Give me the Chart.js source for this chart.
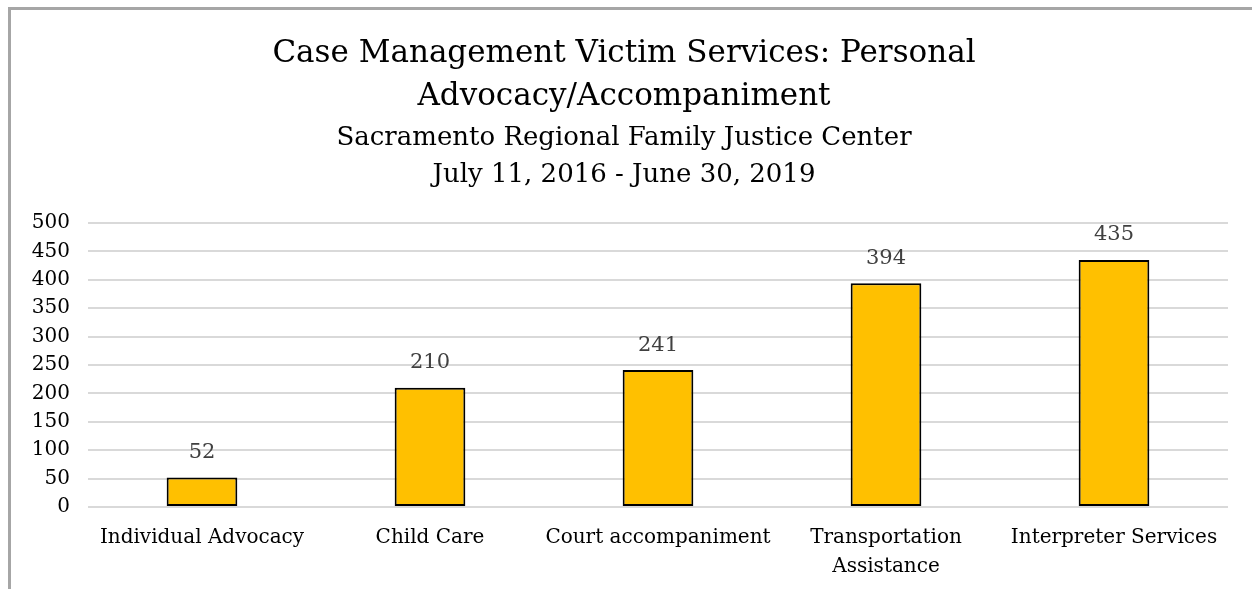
<!DOCTYPE html>
<html>
<head>
<meta charset="utf-8">
<script src="https://cdn.jsdelivr.net/npm/chart.js@4.4.1/dist/chart.umd.min.js"></script>
<style>
html,body{margin:0;padding:0;background:#fff;overflow:hidden;}
#wrap{position:relative;width:1252px;height:589px;}
#frame{position:absolute;left:8px;top:7px;width:1300px;height:700px;border-left:3px solid #a6a6a6;border-top:3px solid #a6a6a6;pointer-events:none;}
canvas{position:absolute;left:0;top:0;}
</style>
</head>
<body>
<div id="wrap"><canvas id="c" width="1252" height="589"></canvas><div id="frame"></div></div>
<script>
const categories = ["Individual Advocacy", ["Child Care"], "Court accompaniment", ["Transportation", "Assistance"], "Interpreter Services"];
const values = [52, 210, 241, 394, 435];
const titleLines = ["Case Management Victim Services: Personal", "Advocacy/Accompaniment"];
const subtitleLines = ["Sacramento Regional Family Justice Center", "July 11, 2016 - June 30, 2019"];
const yMin = 0, yMax = 500, yStep = 50;

const FONT = "'DejaVu Serif', 'Liberation Serif', serif";

const valueLabels = {
  id: 'valueLabels',
  afterDatasetsDraw(chart) {
    const ctx = chart.ctx;
    const meta = chart.getDatasetMeta(0);
    ctx.save();
    ctx.font = "21px " + FONT;
    ctx.fillStyle = '#404040';
    ctx.textAlign = 'center';
    ctx.textBaseline = 'middle';
    meta.data.forEach((bar, i) => {
      ctx.fillText(String(values[i]), bar.x, bar.y - 25);
    });
    ctx.restore();
  }
};

new Chart(document.getElementById('c'), {
  type: 'bar',
  data: {
    labels: categories,
    datasets: [{
      data: values,
      backgroundColor: '#FFC000',
      borderColor: '#000000',
      borderWidth: 2,
      borderSkipped: false,
      barPercentage: 0.31,
      categoryPercentage: 1.0
    }]
  },
  options: {
    responsive: false,
    animation: false,
    devicePixelRatio: 1,
    layout: { padding: { left: 20, right: 24, top: 8, bottom: 10 } },
    plugins: {
      legend: { display: false },
      tooltip: { enabled: false },
      title: {
        display: true,
        text: titleLines,
        color: '#000',
        font: { family: FONT, size: 31, weight: 'normal', lineHeight: 1.39 },
        padding: { top: 24, bottom: 0 }
      },
      subtitle: {
        display: true,
        text: subtitleLines,
        color: '#000',
        font: { family: FONT, size: 26, weight: 'normal', lineHeight: 1.42 },
        padding: { top: 2, bottom: 29 }
      }
    },
    scales: {
      x: {
        afterFit(scale) { scale.height = 72; },
        grid: { display: false, drawTicks: false },
        border: { display: false },
        ticks: {
          color: '#000',
          font: { family: FONT, size: 20, lineHeight: 1.45 },
          padding: 16,
          maxRotation: 0,
          autoSkip: false
        }
      },
      y: {
        min: yMin, max: yMax,
        afterFit(scale) { scale.width = 68; },
        grid: { color: '#d9d9d9', lineWidth: 2, drawTicks: false },
        border: { display: false },
        ticks: {
          stepSize: yStep,
          autoSkip: false,
          color: '#000',
          font: { family: FONT, size: 20, lineHeight: 1.0 },
          padding: 18
        }
      }
    }
  },
  plugins: [valueLabels]
});
</script>
</body>
</html>
